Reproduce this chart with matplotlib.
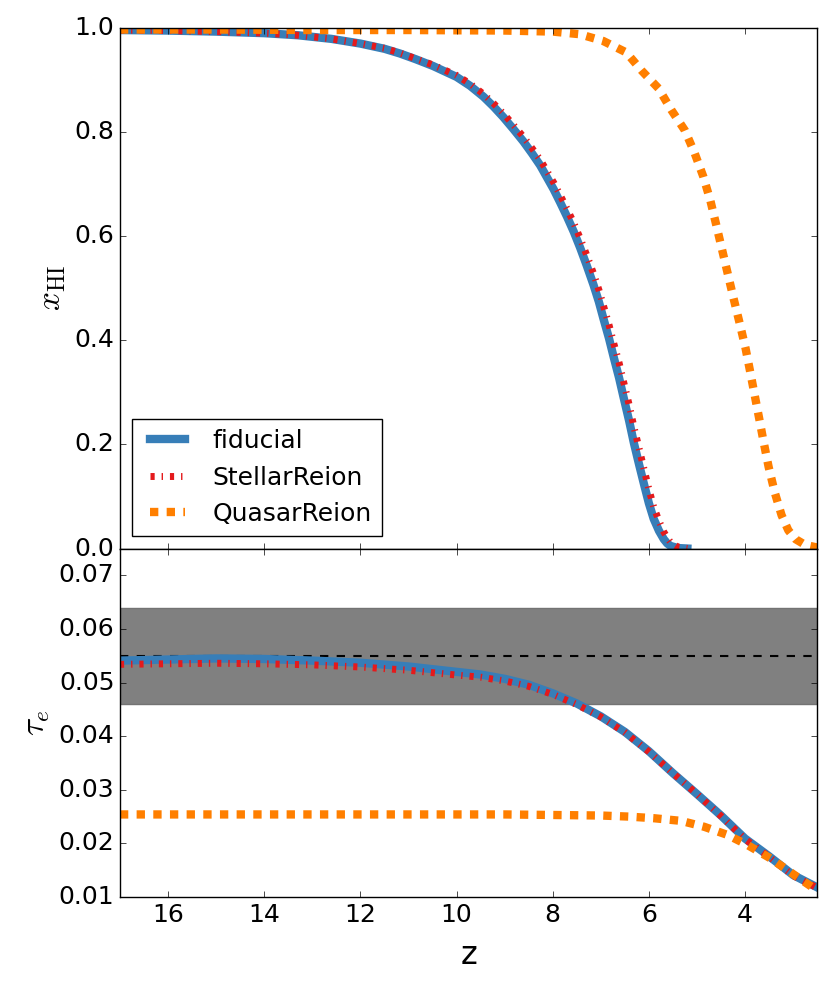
import matplotlib
matplotlib.use('Agg')
import matplotlib.pyplot as plt

plt.style.use('classic')

# neutral fraction x_HI(z)
z_fid = [17.0, 16.0, 15.0, 14.0, 13.3, 12.6, 12.0, 11.5, 11.18, 10.85, 10.49, 10.0, 9.72, 9.44, 9.23, 9.03,
         8.82, 8.61, 8.43, 8.26, 8.12, 7.98, 7.84, 7.70, 7.56, 7.43, 7.29, 7.15, 7.04, 6.94, 6.83, 6.73,
         6.62, 6.52, 6.41, 6.31, 6.20, 6.10, 6.00, 5.90, 5.79, 5.69, 5.62, 5.55, 5.40, 5.20]
xhi_fid = [0.996, 0.995, 0.993, 0.990, 0.986, 0.979, 0.970, 0.960, 0.951, 0.940, 0.927, 0.906, 0.889, 0.868,
           0.849, 0.829, 0.806, 0.782, 0.759, 0.736, 0.713, 0.690, 0.664, 0.637, 0.608, 0.578, 0.543, 0.506,
           0.474, 0.440, 0.404, 0.367, 0.328, 0.288, 0.245, 0.202, 0.160, 0.123, 0.087, 0.057, 0.034, 0.018,
           0.010, 0.005, 0.001, 0.0]
xhi_stellar = [0.996, 0.995, 0.993, 0.990, 0.986, 0.979, 0.970, 0.961, 0.952, 0.941, 0.929, 0.909, 0.893,
               0.873, 0.855, 0.836, 0.814, 0.791, 0.769, 0.747, 0.725, 0.703, 0.678, 0.652, 0.625, 0.596,
               0.563, 0.528, 0.497, 0.465, 0.430, 0.394, 0.357, 0.318, 0.276, 0.233, 0.191, 0.152, 0.114,
               0.080, 0.053, 0.032, 0.021, 0.012, 0.003, 0.0]

z_qso = [17.0, 15.0, 13.0, 11.0, 9.0, 8.0, 7.44, 6.95, 6.47, 6.15, 5.80, 5.53, 5.25, 5.05, 4.87, 4.72, 4.60,
         4.48, 4.36, 4.24, 4.11, 3.99, 3.89, 3.79, 3.70, 3.61, 3.51, 3.38, 3.24, 3.10, 2.95, 2.75, 2.5]
xhi_qso = [0.997, 0.997, 0.996, 0.996, 0.995, 0.993, 0.988, 0.975, 0.953, 0.918, 0.884, 0.842, 0.803, 0.760, 0.715,
           0.668, 0.622, 0.575, 0.528, 0.481, 0.432, 0.385, 0.338, 0.290, 0.247, 0.203, 0.157, 0.107, 0.064,
           0.035, 0.018, 0.007, 0.002]

# optical depth tau_e(z)
z_tau = [17, 16, 15, 14, 13, 12, 11, 10, 9.5, 9, 8.5, 8, 7.5, 7, 6.5, 6, 5.5, 5, 4.5, 4, 3.5, 3, 2.5]
tau_fid = [0.0541, 0.0543, 0.0545, 0.0544, 0.0541, 0.0537, 0.0530, 0.0520, 0.0515, 0.0507, 0.0496, 0.0480,
           0.0461, 0.0437, 0.0408, 0.0372, 0.0331, 0.0292, 0.0252, 0.0209, 0.0176, 0.0141, 0.0118]
tau_stellar = [0.0534, 0.0535, 0.0536, 0.0535, 0.0533, 0.0529, 0.0523, 0.0514, 0.0510, 0.0503, 0.0493, 0.0478,
               0.0459, 0.0436, 0.0407, 0.0371, 0.0331, 0.0292, 0.0251, 0.0208, 0.0175, 0.0140, 0.0117]
z_tau_qso = [17, 15, 13, 11, 9, 8, 7, 6.42, 5.9, 5.33, 4.85, 4.37, 3.95, 3.47, 3.02, 2.5]
tau_qso = [0.0254, 0.0254, 0.0254, 0.0254, 0.0254, 0.0253, 0.0252, 0.0250, 0.0247, 0.0242, 0.0231, 0.0216,
           0.0197, 0.0172, 0.0144, 0.0112]

# Planck constraint
tau_planck = 0.055
tau_err = 0.009

blue = '#377eb8'
red = '#e41a1c'
orange = '#ff7f00'

fig = plt.figure(figsize=(8.33, 9.88), dpi=100)
ax1 = fig.add_axes([0.144, 0.4448, 0.837, 0.5269])
ax2 = fig.add_axes([0.144, 0.0921, 0.837, 0.3527], sharex=ax1)

ax1.plot(z_fid, xhi_fid, color=blue, lw=6, label='fiducial')
ax1.plot(z_fid, xhi_stellar, color=red, lw=5, ls='-.', label='StellarReion')
ax1.plot(z_qso, xhi_qso, color=orange, lw=6, ls='--', label='QuasarReion')
ax1.set_ylim(0, 1)
ax1.set_ylabel(r'$x_{\rm HI}$', fontsize=24)
ax1.legend(loc='lower left', fontsize=18)
plt.setp(ax1.get_xticklabels(), visible=False)

ax2.axhspan(tau_planck - tau_err, tau_planck + tau_err, facecolor='0.5', edgecolor='0.45', lw=1)
ax2.axhline(tau_planck, color='k', ls='--', lw=1.5)
ax2.plot(z_tau, tau_fid, color=blue, lw=6)
ax2.plot(z_tau, tau_stellar, color=red, lw=5, ls='-.')
ax2.plot(z_tau_qso, tau_qso, color=orange, lw=6, ls='--')
ax2.set_ylim(0.01, 0.075)
ax2.set_yticks([0.01, 0.02, 0.03, 0.04, 0.05, 0.06, 0.07])
ax2.set_ylabel(r'$\tau_e$', fontsize=24)
ax2.set_xlabel('z', fontsize=23, labelpad=10)
ax2.set_xlim(17, 2.5)

for ax in (ax1, ax2):
    ax.tick_params(labelsize=18)

fig.savefig('out.png', dpi=100)
